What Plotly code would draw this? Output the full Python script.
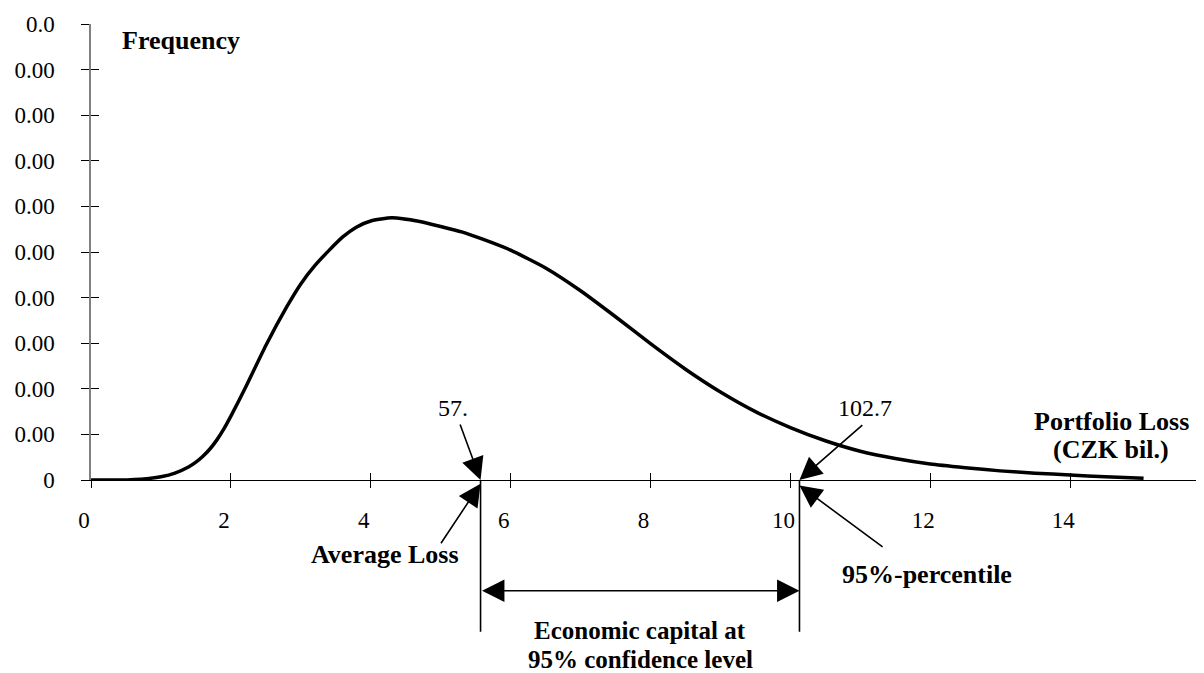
import plotly.graph_objects as go

# ---- data ----
loss_x = [0, 0.4, 0.8, 1.0, 1.2, 1.4, 1.5, 1.6, 1.7, 1.8, 1.9, 2.0, 2.2, 2.5, 2.8, 3.0, 3.2, 3.4,
          3.6, 3.8, 4.0, 4.3, 4.7, 5.0, 5.3, 5.6, 6.0, 6.5, 7.0, 7.5, 8.0, 8.5,
          9.0, 9.5, 10.0, 10.5, 11.0, 11.5, 12.0, 12.5, 13.0, 13.5, 14.0, 14.5, 15.05]
frequency = [0, 0, 0.03, 0.07, 0.15, 0.29, 0.39, 0.52, 0.68, 0.88, 1.12, 1.4, 2.0, 2.95, 3.8, 4.3, 4.7, 5.03,
             5.33, 5.55, 5.68, 5.75, 5.67, 5.56, 5.44, 5.28, 5.04, 4.65, 4.15, 3.58, 2.99, 2.43,
             1.93, 1.5, 1.15, 0.86, 0.63, 0.47, 0.35, 0.27, 0.2, 0.15, 0.11, 0.07, 0.04]

x_tickvals = [0, 2, 4, 6, 8, 10, 12, 14, 16]
x_ticktext = ["0", "2", "4", "6", "8", "10", "12", "14", ""]
y_tickvals = [0, 1, 2, 3, 4, 5, 6, 7, 8, 9, 10]
y_ticktext = ["0", "0.00", "0.00", "0.00", "0.00", "0.00", "0.00", "0.00", "0.00", "0.00", "0.0"]

avg_loss_pos = 5.57
pct95_pos = 10.13
avg_loss_label = "57."
pct95_label = "102.7"

FONT = "Liberation Serif"

# layout geometry: plot area 16..670 px; main y axis occupies 16..472 px
TOP, BOTTOM = 16, 3
AREA_H = 673 - TOP - BOTTOM
AXIS_PX = 472
PX_PER_UNIT = (AXIS_PX - TOP) / 10.0
main_dom_bottom = (673 - BOTTOM - AXIS_PX) / AREA_H
ext_low = -(673 - BOTTOM - AXIS_PX) / PX_PER_UNIT

fig = go.Figure()
fig.add_trace(go.Scatter(x=loss_x, y=frequency, mode="lines",
                         line=dict(color="black", width=3.5, shape="spline", smoothing=0.5),
                         showlegend=False, hoverinfo="skip"))
# invisible traces to anchor overlay axes (cross ticks) and the annotation axis
fig.add_trace(go.Scatter(x=loss_x, y=frequency, mode="lines", xaxis="x2", yaxis="y2",
                         line=dict(color="rgba(0,0,0,0)", width=0),
                         showlegend=False, hoverinfo="skip"))
fig.add_trace(go.Scatter(x=loss_x, y=frequency, mode="lines", xaxis="x", yaxis="y3",
                         line=dict(color="rgba(0,0,0,0)", width=0),
                         showlegend=False, hoverinfo="skip"))

fig.update_layout(
    width=1204, height=673,
    margin=dict(l=83, r=2, t=TOP, b=BOTTOM),
    paper_bgcolor="white", plot_bgcolor="rgba(0,0,0,0)",
    font=dict(family=FONT, color="black", size=23),
    xaxis=dict(range=[0, 16], tickvals=x_tickvals, ticktext=x_ticktext, anchor="y",
               showgrid=False, zeroline=False, showline=True, linecolor="black", linewidth=1.3,
               ticks="outside", ticklen=7, tickwidth=1.2, tickcolor="black",
               ticklabelstandoff=12, ticklabelshift=-7, automargin=False,
               tickfont=dict(family=FONT, size=23)),
    yaxis=dict(range=[0, 10], domain=[main_dom_bottom, 1], anchor="x",
               tickvals=y_tickvals, ticktext=y_ticktext,
               showgrid=False, zeroline=False, showline=True, linecolor="#808080", linewidth=1.5,
               ticks="outside", ticklen=8, tickwidth=1.2, tickcolor="black",
               ticklabelstandoff=22, automargin=False,
               tickfont=dict(family=FONT, size=23)),
    xaxis2=dict(range=[0, 16], tickvals=x_tickvals, overlaying="x", anchor="y2",
                showgrid=False, zeroline=False, showline=False, showticklabels=False,
                ticks="inside", ticklen=7, tickwidth=1.2, tickcolor="black"),
    yaxis2=dict(range=[0, 10], domain=[main_dom_bottom, 1], tickvals=y_tickvals,
                overlaying="y", anchor="x2", side="left",
                showgrid=False, zeroline=False, showline=False, showticklabels=False,
                ticks="inside", ticklen=8, tickwidth=1.2, tickcolor="black"),
    yaxis3=dict(range=[ext_low, 10], domain=[0, 1], anchor="free", position=0,
                visible=False, showgrid=False, zeroline=False, fixedrange=True),
)

ann = []
def arrow(x, y, ax, ay, head=2, side="end"):
    ann.append(dict(x=x, y=y, ax=ax, ay=ay, xref="x", yref="y3", axref="x", ayref="y3",
                    text="", showarrow=True, arrowhead=head, startarrowhead=head,
                    arrowside=side, arrowsize=2.8, startarrowsize=2.8,
                    arrowwidth=1.6, arrowcolor="black", standoff=0, startstandoff=0))

def label(x, y, text, size=26, bold=True, xanchor="center"):
    t = f"<b>{text}</b>" if bold else text
    ann.append(dict(x=x, y=y, xref="x", yref="y3", text=t, showarrow=False,
                    xanchor=xanchor, yanchor="middle",
                    font=dict(family=FONT, size=size, color="black")))

# pointer arrows
arrow(avg_loss_pos, 0.0, 5.27, 1.25)
arrow(avg_loss_pos, -0.08, 4.99, -1.42)
arrow(pct95_pos, 0.0, 11.05, 1.23)
arrow(pct95_pos, -0.12, 11.34, -1.49)
# vertical guide lines
arrow(avg_loss_pos, 0, avg_loss_pos, -3.36, head=0)
arrow(pct95_pos, 0, pct95_pos, -3.36, head=0)
# double arrow (economic capital)
arrow(pct95_pos, -2.43, avg_loss_pos, -2.43, side="end+start")

label(0.42, 9.63, "Frequency", xanchor="left")
label(5.17, 1.58, avg_loss_label, size=24, bold=False)
label(11.07, 1.58, pct95_label, size=24, bold=False)
label(14.59, 1.28, "Portfolio Loss")
label(14.59, 0.66, "(CZK bil.)")
label(4.21, -1.64, "Average Loss")
label(11.95, -2.08, "95%-percentile")
label(7.85, -3.31, "Economic capital at", size=25)
label(7.85, -3.94, "95% confidence level", size=25)

fig.update_layout(annotations=ann)

fig.write_html("out.html")
